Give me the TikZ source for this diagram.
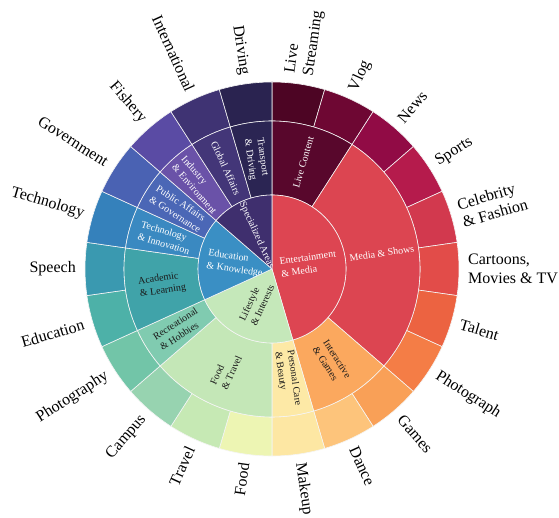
\documentclass[tikz,border=0pt]{standalone}
\usepackage{fontspec}
\setmainfont{Liberation Serif}
% leaf colours
\definecolor{l0}{HTML}{4D0524}\definecolor{l1}{HTML}{6E0733}\definecolor{l2}{HTML}{910B45}
\definecolor{l3}{HTML}{B51B4C}\definecolor{l4}{HTML}{D2394E}\definecolor{l5}{HTML}{E24C49}
\definecolor{l6}{HTML}{EC6341}\definecolor{l7}{HTML}{F47D46}\definecolor{l8}{HTML}{F9A057}
\definecolor{l9}{HTML}{FDC47B}\definecolor{l10}{HTML}{FDE7A3}\definecolor{l11}{HTML}{EDF5B3}
\definecolor{l12}{HTML}{C6E9B4}\definecolor{l13}{HTML}{97D3B0}\definecolor{l14}{HTML}{72C5A8}
\definecolor{l15}{HTML}{4DB1A8}\definecolor{l16}{HTML}{3A99B0}\definecolor{l17}{HTML}{3581BB}
\definecolor{l18}{HTML}{4A62B3}\definecolor{l19}{HTML}{5A4BA4}\definecolor{l20}{HTML}{3F3373}
\definecolor{l21}{HTML}{2A2350}
% level 2 colours
\definecolor{mLive}{HTML}{58072C}\definecolor{mMedia}{HTML}{DC4551}\definecolor{mInter}{HTML}{FBA85E}
\definecolor{mPers}{HTML}{FDE9A6}\definecolor{mFood}{HTML}{C4E7B7}\definecolor{mRec}{HTML}{80CBB0}
\definecolor{mAcad}{HTML}{40A3A9}\definecolor{mTech}{HTML}{3A89C1}\definecolor{mPub}{HTML}{4B67B6}
\definecolor{mInd}{HTML}{6A52A8}\definecolor{mGlob}{HTML}{433678}\definecolor{mTrans}{HTML}{2B2553}
% level 1 colours
\definecolor{cEnt}{HTML}{DD4552}\definecolor{cLife}{HTML}{C5E8BA}
\definecolor{cEdu}{HTML}{3A8FC4}\definecolor{cSpec}{HTML}{3F2F6E}
\definecolor{darktext}{HTML}{1A1A1A}

\tikzset{
  outlab/.style={inner sep=0pt,font=\fontsize{16}{18.5}\selectfont,text=black},
  inlab/.style={inner sep=0pt,align=left,font=\fontsize{10}{12.5}\selectfont},
  sepline/.style={draw=white!92!gray,line width=0.6pt}
}

% #1 name, #2 rin, #3 rout, #4 i0, #5 i1, #6 fill, #7 text colour, #8 label
\newcommand\ringseg[8]{%
  \pgfmathsetmacro\aS{90-(#4)*360/22}%
  \pgfmathsetmacro\aE{90-(#5)*360/22}%
  \pgfmathsetmacro\aM{(\aS+\aE)/2}%
  \pgfmathsetmacro\rM{(#2+#3)/2}%
  \ifdim\aM pt<-90pt \pgfmathsetmacro\aR{\aM+180}\else \pgfmathsetmacro\aR{\aM}\fi
  \path[fill=#6,sepline] (\aS:#2) arc[start angle=\aS,end angle=\aE,radius=#2]
     -- (\aE:#3) arc[start angle=\aE,end angle=\aS,radius=#3] -- cycle;
  \begin{scope}
    \clip (\aS:#2) arc[start angle=\aS,end angle=\aE,radius=#2]
     -- (\aE:#3) arc[start angle=\aE,end angle=\aS,radius=#3] -- cycle;
    \node[inlab,text=#7,rotate=\aR] (#1) at (\aM:\rM) {#8};
  \end{scope}}

% #1 index, #2 label
\newcommand\leafseg[2]{%
  \pgfmathsetmacro\aS{90-(#1)*360/22}%
  \pgfmathsetmacro\aE{90-(#1+1)*360/22}%
  \pgfmathsetmacro\aM{(\aS+\aE)/2}%
  \path[fill=l#1,sepline] (\aS:148) arc[start angle=\aS,end angle=\aE,radius=148]
     -- (\aE:187) arc[start angle=\aE,end angle=\aS,radius=187] -- cycle;
  \ifdim\aM pt<-90pt
    \pgfmathsetmacro\aR{\aM+180}%
    \node[outlab,anchor=east,align=right,rotate=\aR] (out#1) at (\aM:196) {#2};
  \else
    \node[outlab,anchor=west,align=left,rotate=\aM] (out#1) at (\aM:196) {#2};
  \fi}

\begin{document}
\begin{tikzpicture}[x=1pt,y=1pt]
\useasboundingbox[fill=white] (0,0) rectangle (559,518);
\begin{scope}[shift={(272,249)}]
% outer ring
\leafseg{0}{Live\\Streaming}
\leafseg{1}{Vlog}
\leafseg{2}{News}
\leafseg{3}{Sports}
\leafseg{4}{Celebrity\\\& Fashion}
\leafseg{5}{Cartoons,\\Movies \& TV}
\leafseg{6}{Talent}
\leafseg{7}{Photograph}
\leafseg{8}{Games}
\leafseg{9}{Dance}
\leafseg{10}{Makeup}
\leafseg{11}{Food}
\leafseg{12}{Travel}
\leafseg{13}{Campus}
\leafseg{14}{Photography}
\leafseg{15}{Education}
\leafseg{16}{Speech}
\leafseg{17}{Technology}
\leafseg{18}{Government}
\leafseg{19}{Fishery}
\leafseg{20}{International}
\leafseg{21}{Driving}
% middle ring
\ringseg{live}{74}{148}{0}{2}{mLive}{white}{Live Content}
\ringseg{media}{74}{148}{2}{8}{mMedia}{white}{Media \& Shows}
\ringseg{inter}{74}{148}{8}{10}{mInter}{darktext}{Interactive\\\& Games}
\ringseg{pers}{74}{148}{10}{11}{mPers}{darktext}{Personal Care\\\& Beauty}
\ringseg{food}{74}{148}{11}{14}{mFood}{darktext}{Food\\\& Travel}
\ringseg{rec}{74}{148}{14}{15}{mRec}{darktext}{Recreational\\\& Hobbies}
\ringseg{acad}{74}{148}{15}{17}{mAcad}{darktext}{Academic\\\& Learning}
\ringseg{tech}{74}{148}{17}{18}{mTech}{white}{Technology\\\& Innovation}
\ringseg{pub}{74}{148}{18}{19}{mPub}{white}{Public Affairs\\\& Governance}
\ringseg{ind}{74}{148}{19}{20}{mInd}{white}{Industry\\\& Environment}
\ringseg{glob}{74}{148}{20}{21}{mGlob}{white}{Global Affairs}
\ringseg{trans}{74}{148}{21}{22}{mTrans}{white}{Transport\\\& Driving}
% inner ring
\ringseg{ent}{0.01}{74}{0}{10}{cEnt}{white}{Entertainment\\\& Media}
\ringseg{life}{0.01}{74}{10}{15}{cLife}{darktext}{Lifestyle\\\& Interests}
\ringseg{edu}{0.01}{74}{15}{19}{cEdu}{white}{Education\\\& Knowledge}
\ringseg{spec}{0.01}{74}{19}{22}{cSpec}{white}{Specialized Areas}
\end{scope}
\end{tikzpicture}
\end{document}
